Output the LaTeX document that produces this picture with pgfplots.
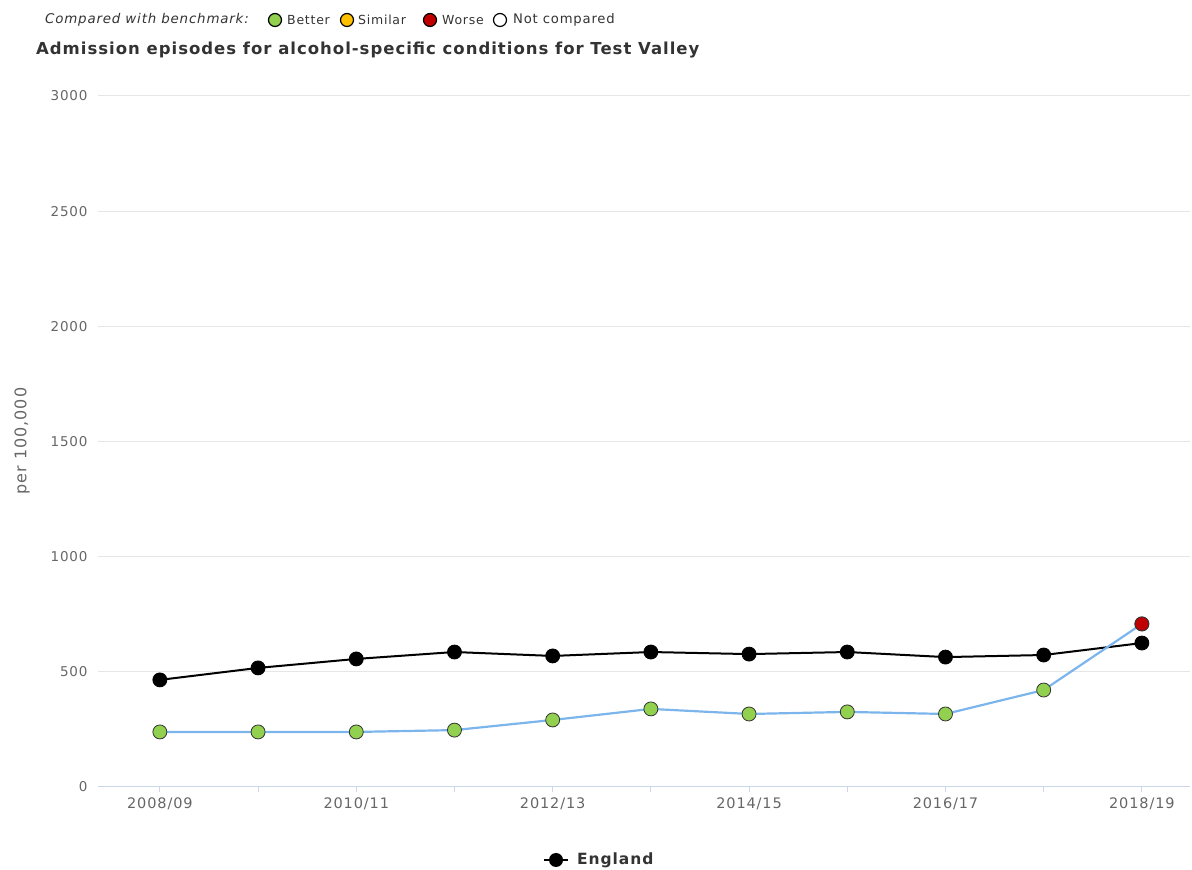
\documentclass[border=0pt]{standalone}
\usepackage{fontspec}
\setmainfont{DejaVu Sans}[LetterSpace=6]
\usepackage{pgfplots}
\pgfplotsset{compat=1.18}
\definecolor{tvblue}{HTML}{7CB5EC}
\definecolor{better}{HTML}{92D050}
\definecolor{similar}{HTML}{FFC000}
\definecolor{worse}{HTML}{C00000}
\definecolor{gridc}{HTML}{E6E6E6}
\definecolor{axisc}{HTML}{CCD6EB}
\definecolor{tickc}{HTML}{666666}
\definecolor{textc}{HTML}{333333}
\begin{document}
\begin{tikzpicture}[x=1pt,y=1pt]
\useasboundingbox (0,0) rectangle (1192,870);
\begin{axis}[at={(98pt,83pt)}, anchor=south west, scale only axis,
  width=1092pt, height=691pt,
  xmin=-0.63, xmax=10.49, ymin=0, ymax=3000,
  axis x line*=bottom, axis y line*=left,
  y axis line style={draw=none},
  x axis line style={axisc, line width=1pt, -},
  ytick={0,500,...,3000}, ytick style={draw=none},
  ymajorgrids, grid style={gridc, line width=1pt},
  xtick={0,...,10},
  xticklabels={2008/09,,2010/11,,2012/13,,2014/15,,2016/17,,2018/19},
  x tick style={axisc, line width=1pt},
  tick align=outside, major tick length=5pt,
  yticklabel style={font=\fontsize{13.5}{16}\selectfont, text=tickc, xshift=-2pt},
  xticklabel style={font=\fontsize{14.5}{17}\selectfont, text=tickc, yshift=-2pt},
  /pgf/number format/assume math mode=true,
  /pgf/number format/1000 sep={},
  clip=false,
]
\addplot[black, line width=2pt, mark=*, mark size=7pt,
  mark options={fill=black, draw=black, line width=0.8pt}]
  coordinates {(0,465) (1,517) (2,556) (3,586) (4,569) (5,586) (6,577) (7,586) (8,564) (9,573) (10,625)};
\addplot[tvblue, line width=2.2pt, mark=*, mark size=7pt,
  mark options={fill=better, draw=black!80, line width=0.8pt}]
  coordinates {(0,239) (1,239) (2,239) (3,247) (4,291) (5,339) (6,317) (7,326) (8,317) (9,421) (10,708)};
\addplot[only marks, mark=*, mark size=7pt,
  mark options={fill=worse, draw=black!80, line width=0.8pt}]
  coordinates {(10,708)};
\end{axis}
% y label
\node[rotate=90, text=tickc, font=\fontsize{16}{19}\selectfont] at (22,429) {per 100,000};
% top legend
\node[anchor=west, text=textc, font=\fontsize{13.4}{16}\selectfont\itshape, inner sep=0pt] at (45,850) {Compared with benchmark:};
\filldraw[fill=better, draw=black, line width=1.2pt] (275,850) circle (6.5);
\node[anchor=west, text=textc, font=\fontsize{12.5}{15}\selectfont, inner sep=0pt] at (287,850) {Better};
\filldraw[fill=similar, draw=black, line width=1.2pt] (347,850) circle (6.5);
\node[anchor=west, text=textc, font=\fontsize{12.5}{15}\selectfont, inner sep=0pt] at (358,850) {Similar};
\filldraw[fill=worse, draw=black, line width=1.2pt] (430,850) circle (6.5);
\node[anchor=west, text=textc, font=\fontsize{12.5}{15}\selectfont, inner sep=0pt] at (442,850) {Worse};
\filldraw[fill=white, draw=black, line width=1.2pt] (500,850) circle (6.5);
\node[anchor=west, text=textc, font=\fontsize{13.2}{15}\selectfont, inner sep=0pt] at (513,850) {Not compared};
% title
\node[anchor=west, text=textc, font=\fontsize{16.5}{19}\selectfont\bfseries, inner sep=0pt] at (36,820) {Admission episodes for alcohol-specific conditions for Test Valley};
% bottom legend
\draw[black, line width=2pt] (544,10) -- (568,10);
\fill[black] (556,10) circle (7);
\node[anchor=west, text=textc, font=\fontsize{15.5}{18}\selectfont\bfseries, inner sep=0pt] at (577,10) {England};
\end{tikzpicture}
\end{document}
